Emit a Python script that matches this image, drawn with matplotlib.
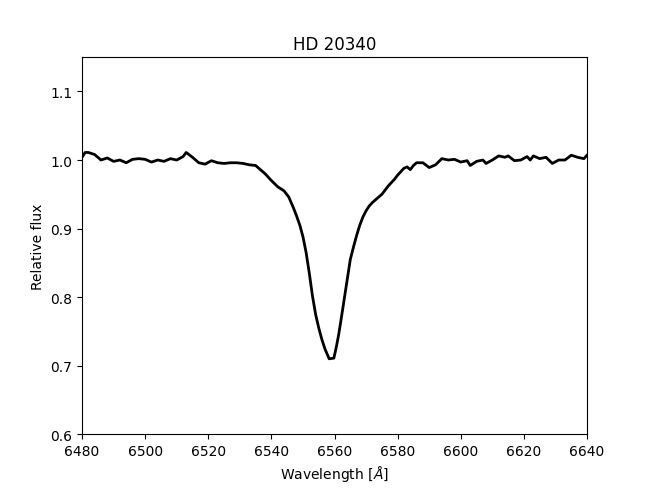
import numpy as np
import matplotlib
matplotlib.use('Agg')
import matplotlib.pyplot as plt

# Spectrum (H-alpha region)
wavelength = [
    6480, 6481, 6482, 6484, 6486, 6488, 6490, 6492, 6494, 6496, 6498,
    6500, 6502, 6504, 6506, 6508, 6510, 6512, 6513, 6515, 6517, 6519,
    6521, 6523, 6525, 6527, 6529, 6531, 6533, 6535, 6537, 6538, 6540,
    6542, 6544, 6545.5, 6547, 6548, 6549, 6550, 6551, 6552, 6553, 6554,
    6555, 6556, 6557, 6558.3, 6559.8, 6560.6, 6561.3, 6562, 6563, 6564, 6565,
    6566, 6567, 6568, 6569, 6570, 6571, 6572, 6573, 6574, 6575, 6576,
    6577, 6578, 6579, 6580, 6581, 6582, 6583, 6584, 6585, 6586, 6588,
    6590, 6592, 6594, 6596, 6598, 6600, 6602, 6603, 6605, 6607, 6608,
    6610, 6612, 6614, 6615, 6617, 6619, 6621, 6622, 6623, 6625, 6627,
    6629, 6631, 6633, 6635, 6637, 6639, 6640,
]
flux = [
    1.004, 1.011, 1.011, 1.008, 1.000, 1.003, 0.998, 1.000, 0.996, 1.001, 1.002,
    1.001, 0.997, 1.000, 0.998, 1.002, 1.000, 1.005, 1.011, 1.004, 0.996, 0.994,
    0.999, 0.996, 0.995, 0.996, 0.996, 0.995, 0.993, 0.992, 0.984, 0.980, 0.970,
    0.961, 0.955, 0.946, 0.930, 0.918, 0.905, 0.888, 0.865, 0.835, 0.802, 0.775,
    0.755, 0.738, 0.724, 0.710, 0.711, 0.728, 0.745, 0.765, 0.795, 0.825, 0.855,
    0.873, 0.890, 0.905, 0.917, 0.926, 0.933, 0.938, 0.942, 0.946, 0.950, 0.956,
    0.962, 0.967, 0.972, 0.978, 0.983, 0.988, 0.990, 0.986, 0.992, 0.996, 0.996,
    0.989, 0.993, 1.002, 1.000, 1.001, 0.997, 0.999, 0.992, 0.998, 1.000, 0.995,
    1.000, 1.006, 1.004, 1.006, 0.999, 1.000, 1.005, 1.000, 1.006, 1.002, 1.004,
    0.995, 1.000, 1.000, 1.007, 1.004, 1.002, 1.007,
]

fig, ax = plt.subplots(figsize=(6.53, 4.89), dpi=100)
fig.subplots_adjust(left=0.1256, right=0.899, top=0.881, bottom=0.110)

ax.plot(wavelength, flux, color='black', lw=2)
ax.set_xlim(6480, 6640)
ax.set_ylim(0.6, 1.15)
ax.set_xticks(np.arange(6480, 6641, 20))
ax.set_yticks([0.6, 0.7, 0.8, 0.9, 1.0, 1.1])
ax.set_xlabel(r'Wavelength [$\AA$]')
ax.set_ylabel('Relative flux')
ax.set_title('HD 20340')

fig.savefig('out.png', dpi=100)
